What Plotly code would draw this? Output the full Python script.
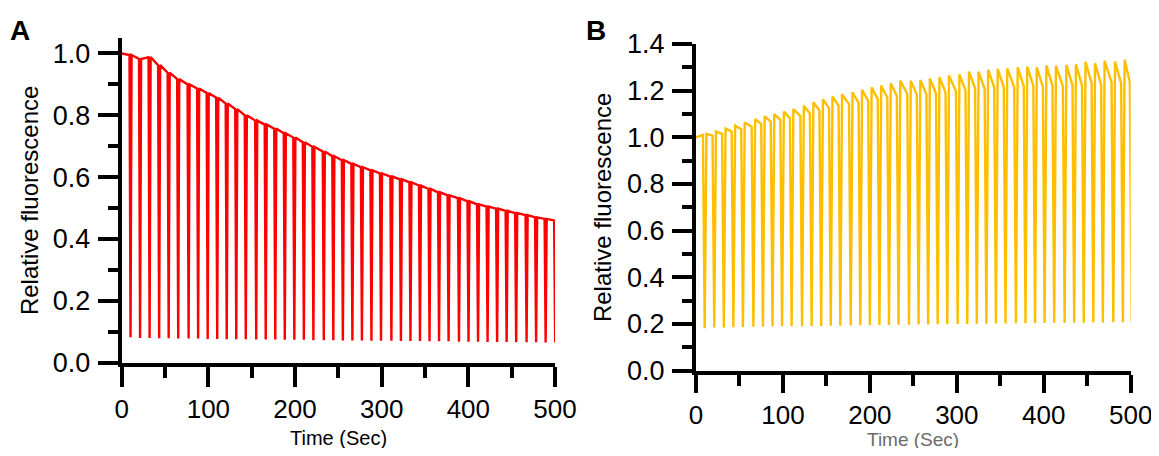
import plotly.graph_objects as go
from plotly.subplots import make_subplots

# ---- panel A: decaying signal with periodic dips ----
a_start = 1.0
a_pulse_times = [9, 20, 31, 42, 53, 64, 76, 87, 98, 109, 120, 131, 142, 154, 165,
                 176, 187, 198, 209, 220, 232, 243, 254, 265, 276, 287, 298, 310,
                 321, 332, 343, 354, 365, 376, 388, 399, 410, 421, 432, 443, 454,
                 466, 477, 488, 499]
a_top = [0.995, 0.982, 0.988, 0.962, 0.938, 0.917, 0.900, 0.887, 0.872, 0.857,
         0.838, 0.820, 0.800, 0.783, 0.770, 0.757, 0.742, 0.728, 0.713, 0.698,
         0.683, 0.668, 0.655, 0.643, 0.632, 0.622, 0.612, 0.602, 0.593, 0.583,
         0.573, 0.562, 0.551, 0.541, 0.532, 0.522, 0.512, 0.505, 0.498, 0.491,
         0.484, 0.477, 0.470, 0.465, 0.460]
a_bottom = [0.082, 0.080, 0.080, 0.079, 0.079, 0.078, 0.078, 0.078, 0.077, 0.077,
            0.076, 0.076, 0.076, 0.075, 0.075, 0.075, 0.074, 0.074, 0.074, 0.073,
            0.073, 0.073, 0.072, 0.072, 0.072, 0.071, 0.071, 0.071, 0.070, 0.070,
            0.070, 0.069, 0.069, 0.069, 0.068, 0.068, 0.068, 0.067, 0.067, 0.067,
            0.066, 0.066, 0.066, 0.065, 0.065]

# ---- panel B: rising signal, sawtooth peaks + dips ----
b_start = 1.0
b_drop_times = [8, 19, 30, 41, 52, 64, 75, 86, 97, 108, 120, 131, 142, 153, 164,
                176, 187, 198, 209, 220, 231, 243, 254, 265, 276, 287, 299, 310,
                321, 332, 343, 354, 366, 377, 388, 399, 410, 422, 433, 444, 455,
                466, 478, 489, 499]
b_before_drop = [1.01, 1.007, 1.015, 1.025, 1.035, 1.046, 1.058, 1.068, 1.075,
                 1.082, 1.091, 1.102, 1.115, 1.125, 1.135, 1.142, 1.148, 1.156,
                 1.164, 1.170, 1.177, 1.186, 1.183, 1.184, 1.188, 1.192, 1.197,
                 1.200, 1.210, 1.207, 1.214, 1.215, 1.215, 1.219, 1.220, 1.216,
                 1.222, 1.219, 1.223, 1.223, 1.233, 1.225, 1.235, 1.231, 1.237]
b_peak = [1.015, 1.025, 1.037, 1.050, 1.064, 1.078, 1.090, 1.100, 1.110, 1.121,
          1.135, 1.150, 1.163, 1.175, 1.185, 1.193, 1.204, 1.214, 1.222, 1.232,
          1.243, 1.243, 1.246, 1.252, 1.258, 1.265, 1.270, 1.282, 1.281, 1.290,
          1.293, 1.295, 1.300, 1.303, 1.300, 1.308, 1.306, 1.311, 1.313, 1.324,
          1.317, 1.328, 1.325, 1.332]
b_bottom = [0.182, 0.185, 0.185, 0.186, 0.187, 0.188, 0.188, 0.189, 0.190, 0.190,
            0.191, 0.192, 0.192, 0.193, 0.193, 0.194, 0.195, 0.195, 0.196, 0.196,
            0.197, 0.197, 0.198, 0.198, 0.199, 0.199, 0.200, 0.200, 0.201, 0.201,
            0.202, 0.202, 0.203, 0.203, 0.204, 0.204, 0.205, 0.205, 0.206, 0.206,
            0.207, 0.207, 0.208, 0.208, 0.209]

x_ticks = [0, 100, 200, 300, 400, 500]

FONT = "Arial, Liberation Sans, sans-serif"
RED = "#FF0000"
AMBER = "#FFBF00"

# page body has an 8px margin, so the figure is drawn 8px in from the corner
W, H, OFF = 1149, 440, 8


def px_x(p):
    return (p - OFF) / W


def px_y(p):
    return 1 - (p - OFF) / H


def trace_a():
    xs, ys = [0], [a_start]
    for i, t in enumerate(a_pulse_times):
        xs += [t, t + 1.2, t + 2.4]
        ys += [a_top[i], a_bottom[i], a_top[i]]
    return xs, ys


def trace_b():
    xs, ys = [0], [b_start]
    for i, t in enumerate(b_drop_times):
        xs += [t, t + 2]
        ys += [b_before_drop[i], b_bottom[i]]
        if i < len(b_peak):
            xs.append(t + 4)
            ys.append(b_peak[i])
    return xs, ys


fig = make_subplots(rows=1, cols=2)

ax, ay = trace_a()
bx, by = trace_b()
fig.add_trace(go.Scatter(x=ax, y=ay, mode="lines", line=dict(color=RED, width=2.4)), 1, 1)
fig.add_trace(go.Scatter(x=bx, y=by, mode="lines", line=dict(color=AMBER, width=2.4)), 1, 2)

axis_common = dict(
    showgrid=False, zeroline=False, showline=True, linecolor="black", linewidth=4,
    ticks="outside", tickwidth=4, tickcolor="black",
    tickfont=dict(family=FONT, size=27, color="black"),
    automargin=False, ticklabeloverflow="allow",
)

fig.update_xaxes(**axis_common, range=[0, 500], tickvals=x_ticks, ticklen=20,
                 ticklabelstandoff=0,
                 minor=dict(dtick=50, ticklen=11, tickwidth=4, tickcolor="black", ticks="outside"))
fig.update_xaxes(tickfont=dict(size=26))
fig.update_xaxes(domain=[px_x(121.7), px_x(555)], row=1, col=1)
fig.update_xaxes(domain=[px_x(696), px_x(1130.7)], ticklen=18, row=1, col=2)

fig.update_yaxes(**axis_common, ticklen=20, tickformat=".1f", dtick=0.2, ticklabelstandoff=2,
                 minor=dict(dtick=0.1, ticklen=10, tickwidth=4, tickcolor="black", ticks="outside"))
fig.update_yaxes(domain=[px_y(362.7), px_y(38)], range=[0, 1.05], row=1, col=1,
                 title=dict(text="Relative fluorescence", font=dict(family=FONT, size=24, color="black"), standoff=8))
fig.update_yaxes(domain=[px_y(370.7), px_y(44)], range=[0, 1.4], row=1, col=2,
                 title=dict(text="Relative fluorescence", font=dict(family=FONT, size=24, color="black"), standoff=10))

# x titles placed as annotations just under the tick labels
for cx, cy, size, col in ((338, 438, 20, "black"), (913, 439, 19, "#6b6b6b")):
    fig.add_annotation(text="Time (Sec)", x=px_x(cx), y=px_y(cy), xref="paper", yref="paper",
                       xanchor="center", yanchor="middle", showarrow=False,
                       font=dict(family=FONT, size=size, color=col))

for letter, cx in (("A", 20), ("B", 596)):
    fig.add_annotation(text=f"<b>{letter}</b>", x=px_x(cx), y=px_y(31), xref="paper", yref="paper",
                       xanchor="center", yanchor="middle", showarrow=False,
                       font=dict(family=FONT, size=28, color="black"))

fig.update_layout(
    width=W, height=H, showlegend=False,
    margin=dict(l=0, r=0, t=0, b=0),
    paper_bgcolor="white", plot_bgcolor="white",
    font=dict(family=FONT),
)

fig.write_html("out.html")
